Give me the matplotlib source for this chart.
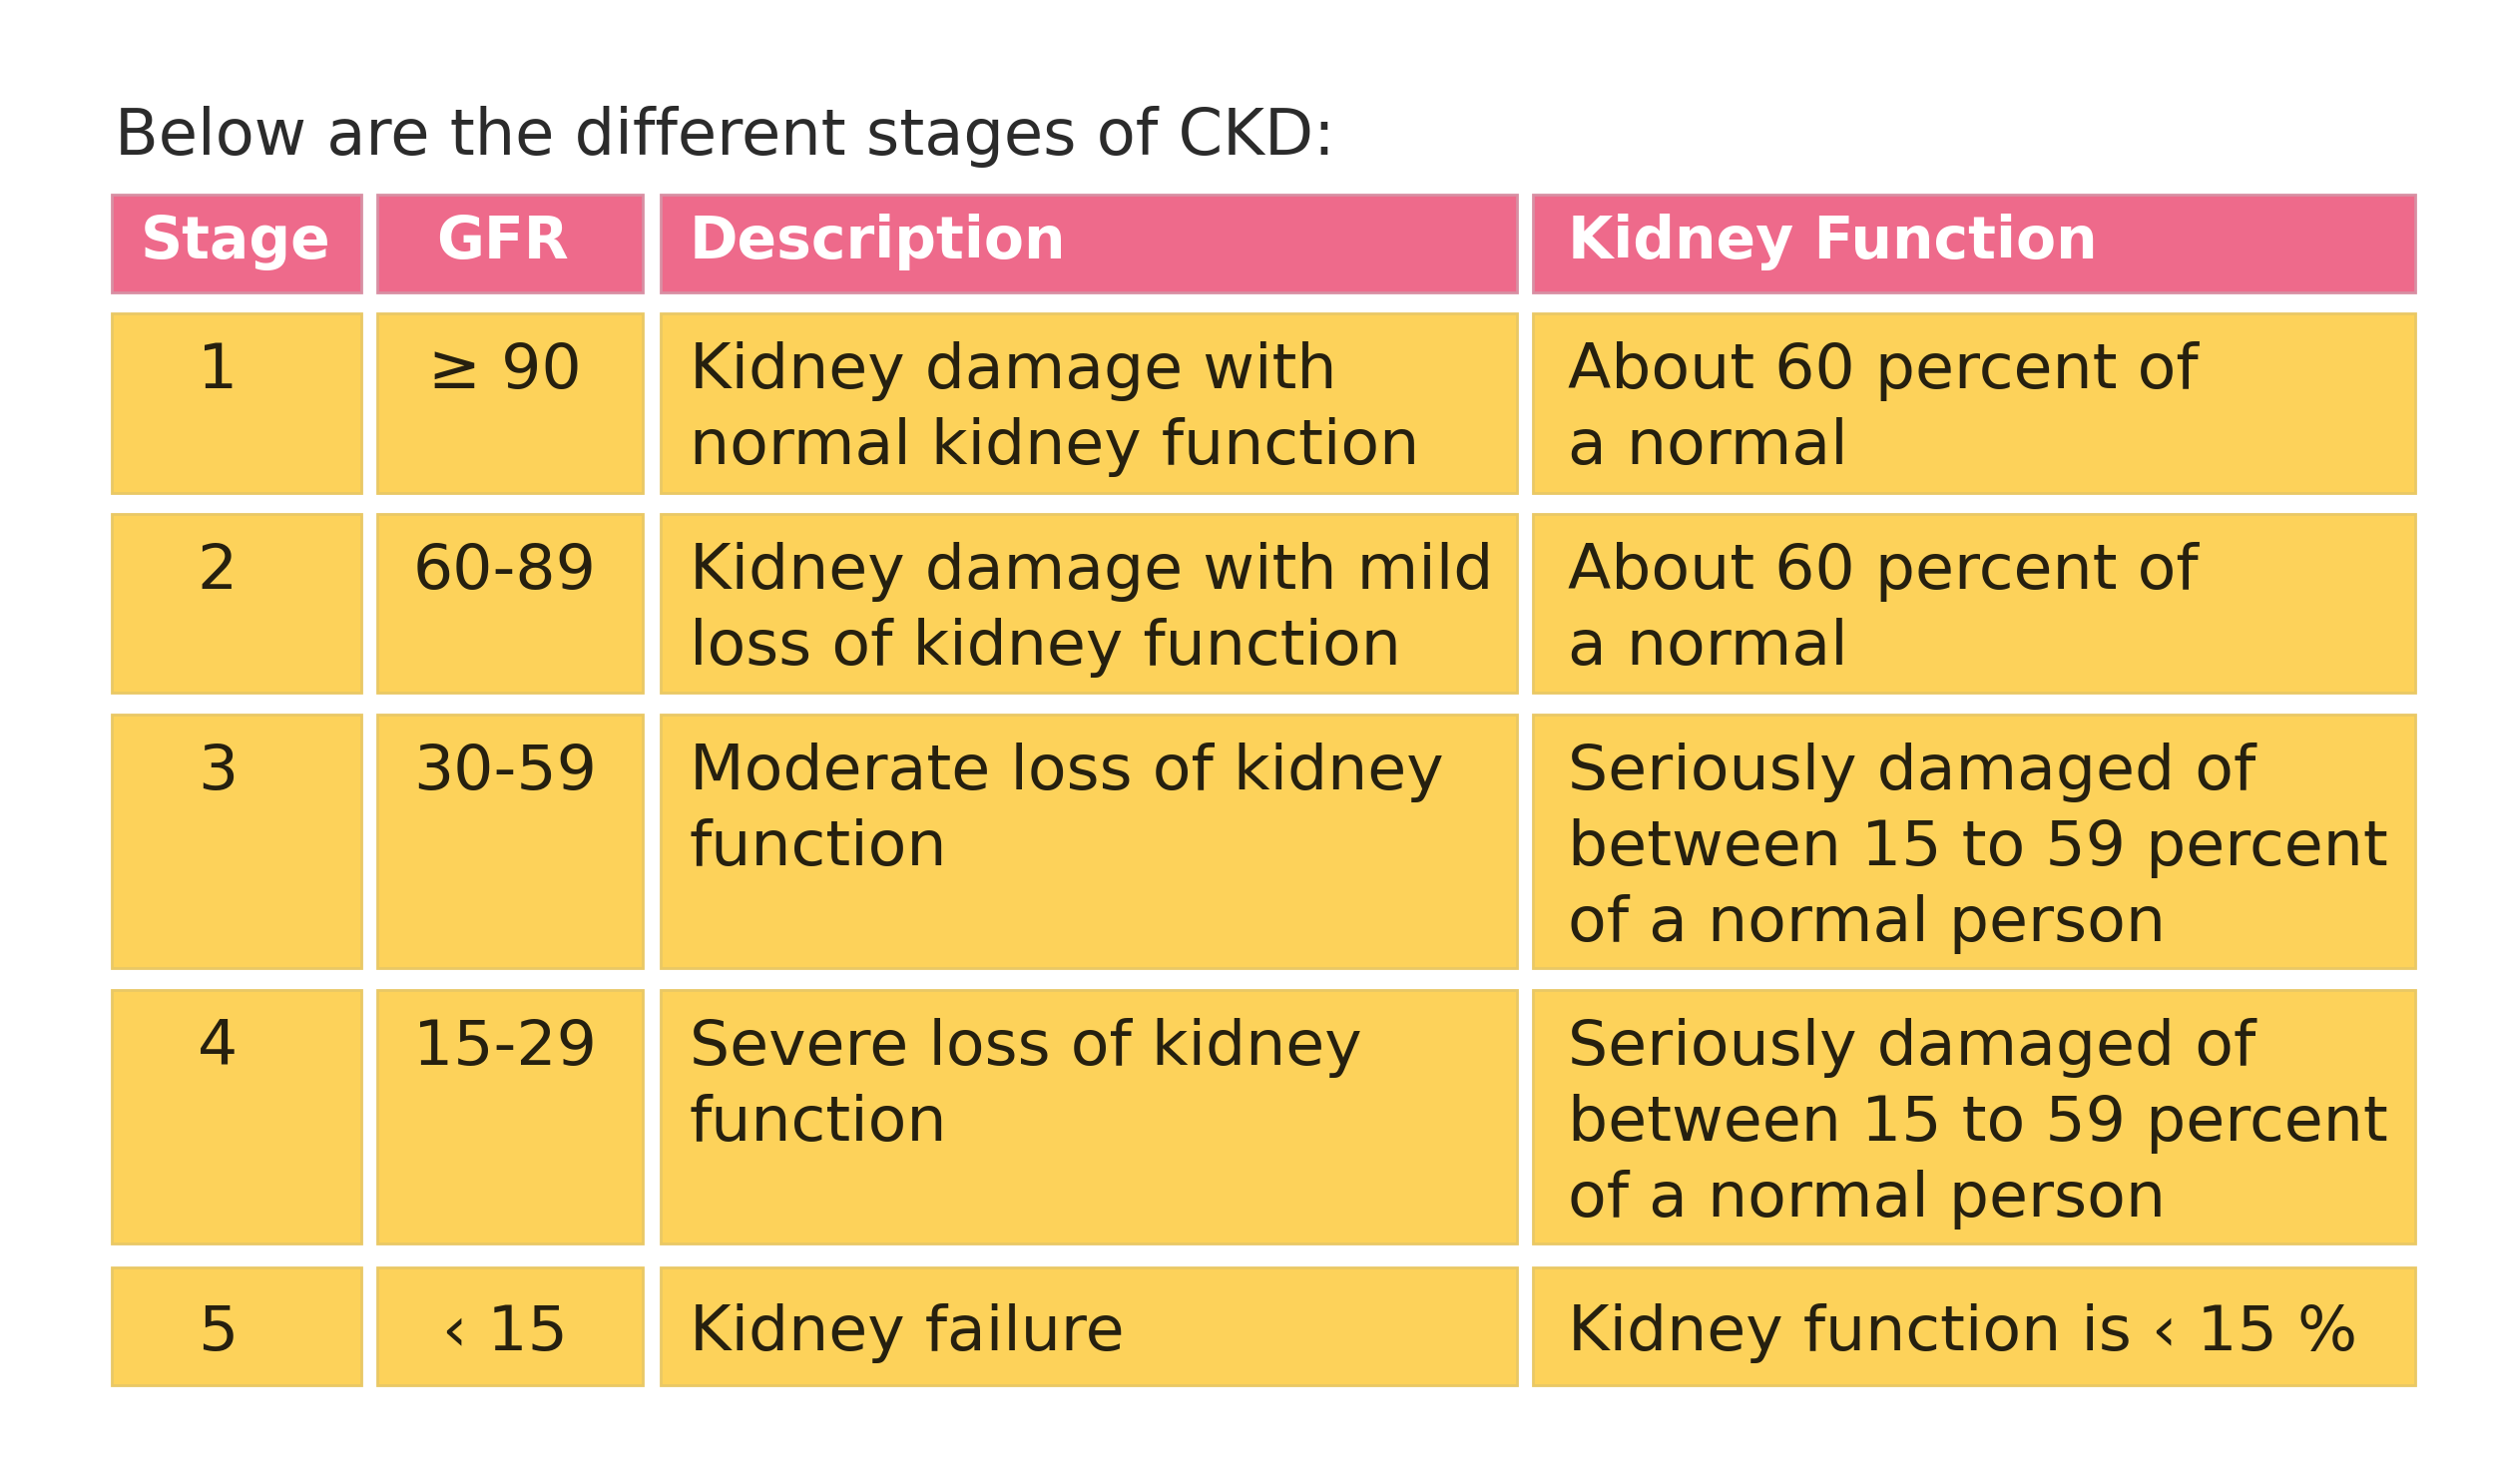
import matplotlib
matplotlib.use('Agg')
import matplotlib.pyplot as plt
from matplotlib.patches import Rectangle

matplotlib.rcParams['font.family'] = ['DejaVu Sans']

title = "Below are the different stages of CKD:"
headers = ["Stage", "GFR", "Description", "Kidney Function"]
stages = ["1", "2", "3", "4", "5"]
gfr = ["≥ 90", "60-89", "30-59", "15-29", "‹ 15"]
descriptions = [
    "Kidney damage with\nnormal kidney function",
    "Kidney damage with mild\nloss of kidney function",
    "Moderate loss of kidney\nfunction",
    "Severe loss of kidney\nfunction",
    "Kidney failure",
]
functions = [
    "About 60 percent of\na normal",
    "About 60 percent of\na normal",
    "Seriously damaged of\nbetween 15 to 59 percent\nof a normal person",
    "Seriously damaged of\nbetween 15 to 59 percent\nof a normal person",
    "Kidney function is ‹ 15 %",
]

# layout in pixels
W, H = 2501, 1487
col_x = [(112, 362), (378, 644), (662, 1520), (1536, 2420)]
header_y = (195, 293)
row_y = [(314, 494), (515, 694), (716, 970), (992, 1246), (1270, 1388)]
pink = "#EE6A8B"
pink_edge = "#D88FA3"
yellow = "#FDD25A"
yellow_edge = "#E9C865"
text_dark = "#26200F"

fig = plt.figure(figsize=(W / 100, H / 100), dpi=100)
ax = fig.add_axes([0, 0, 1, 1])
ax.set_xlim(0, W)
ax.set_ylim(H, 0)
ax.axis('off')

ax.text(115, 155, title, fontsize=46, color="#2b2b2b", ha='left', va='baseline')

for (x0, x1) in col_x:
    ax.add_patch(Rectangle((x0, header_y[0]), x1 - x0, header_y[1] - header_y[0],
                           facecolor=pink, edgecolor=pink_edge, lw=2))
    for (y0, y1) in row_y:
        ax.add_patch(Rectangle((x0, y0), x1 - x0, y1 - y0,
                               facecolor=yellow, edgecolor=yellow_edge, lw=2))

hb = header_y[0] + 64
hfs = 42
ax.text(236, hb, headers[0], fontsize=hfs, fontweight='bold', color='white', ha='center', va='baseline')
ax.text(504, hb, headers[1], fontsize=hfs, fontweight='bold', color='white', ha='center', va='baseline')
ax.text(691, hb, headers[2], fontsize=hfs, fontweight='bold', color='white', ha='left', va='baseline')
ax.text(1571, hb, headers[3], fontsize=hfs, fontweight='bold', color='white', ha='left', va='baseline')

fs = 45.5
for i, (y0, y1) in enumerate(row_y):
    n_lines = max(descriptions[i].count("\n"), functions[i].count("\n")) + 1
    if n_lines == 1:
        base = (y0 + y1) / 2 + 24  # single line rows are vertically centred
    else:
        base = y0 + 75
    ax.text(218, base, stages[i], fontsize=fs, color=text_dark, ha='center', va='baseline')
    ax.text(506, base, gfr[i], fontsize=fs, color=text_dark, ha='center', va='baseline')
    for k, line in enumerate(descriptions[i].split("\n")):
        ax.text(691, base + k * 76, line, fontsize=fs, color=text_dark, ha='left', va='baseline')
    for k, line in enumerate(functions[i].split("\n")):
        ax.text(1571, base + k * 76, line, fontsize=fs, color=text_dark, ha='left', va='baseline')

fig.savefig("out.png", dpi=100, facecolor='white')
